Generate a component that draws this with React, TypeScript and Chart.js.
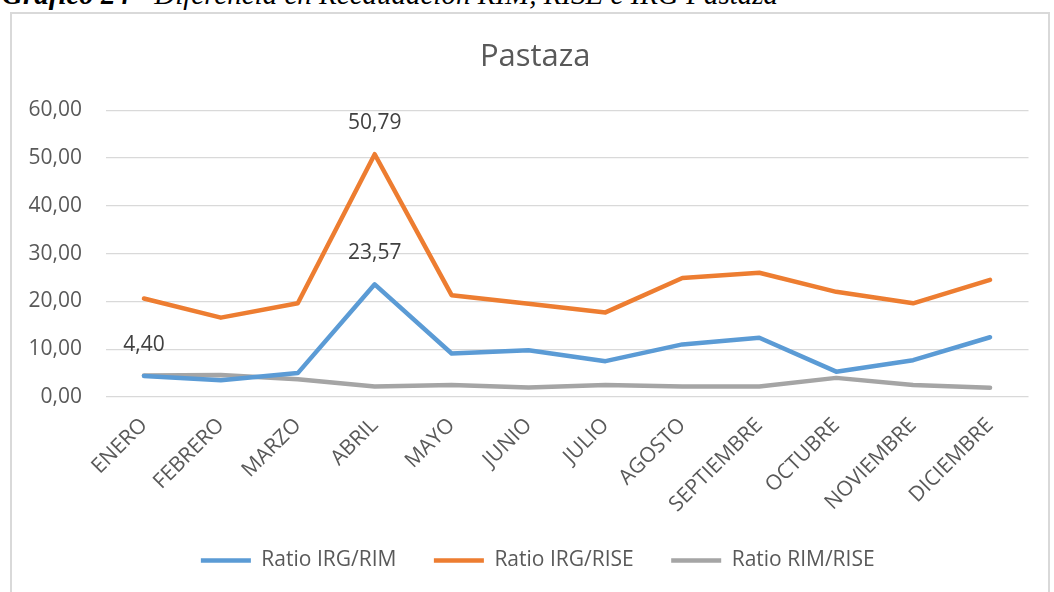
import React, { useEffect, useRef } from "react";
import { Chart, registerables } from "chart.js";

Chart.register(...registerables);

const captionBold = "Gráfico 24";
const captionRest = " - Diferencia en Recaudación RIM, RISE e IRG Pastaza";
const chartTitle = "Pastaza";

const months = [
  "ENERO", "FEBRERO", "MARZO", "ABRIL", "MAYO", "JUNIO",
  "JULIO", "AGOSTO", "SEPTIEMBRE", "OCTUBRE", "NOVIEMBRE", "DICIEMBRE",
];
const seriesNames = ["Ratio IRG/RIM", "Ratio IRG/RISE", "Ratio RIM/RISE"];
const ratioIrgRim = [4.4, 3.5, 5.0, 23.57, 9.1, 9.8, 7.5, 11.0, 12.4, 5.3, 7.7, 12.5];
const ratioIrgRise = [20.6, 16.6, 19.6, 50.79, 21.3, 19.5, 17.7, 24.9, 26.0, 22.0, 19.6, 24.5];
const ratioRimRise = [4.5, 4.6, 3.7, 2.2, 2.5, 2.0, 2.5, 2.2, 2.2, 4.0, 2.5, 1.95];
const seriesColors = ["#5B9BD5", "#ED7D31", "#A5A5A5"];
const yMin = 0;
const yMax = 60;
const yStep = 10;
// data labels: [series index, category index]
const labelledPoints = [
  [0, 0],
  [0, 3],
  [1, 3],
];

const FONT = "'Open Sans', 'Noto Sans', sans-serif";
const fmt = (v: number) => v.toFixed(2).replace(".", ",");

const dataLabelPlugin = {
  id: "dataLabels",
  afterDatasetsDraw(chart: any) {
    const ctx = chart.ctx;
    ctx.save();
    ctx.font = `21px ${FONT}`;
    ctx.fillStyle = "#404040";
    ctx.textAlign = "center";
    ctx.textBaseline = "middle";
    labelledPoints.forEach(([s, i]) => {
      const meta = chart.getDatasetMeta(s);
      const pt = meta.data[i];
      const v = chart.data.datasets[s].data[i] as number;
      ctx.fillText(fmt(v), pt.x, pt.y - 31);
    });
    ctx.restore();
  },
};

// Excel places title and legend slightly right of the plot's centre
const boxShiftPlugin = {
  id: "boxShift",
  afterLayout(chart: any) {
    const lg = chart.legend;
    if (lg) {
      lg.left += 23.5;
      lg.right += 23.5;
    }
    const tb = chart.titleBlock;
    if (tb) {
      tb.left += 21;
      tb.right += 21;
    }
  },
};

export default function App() {
  const canvasRef = useRef<HTMLCanvasElement | null>(null);

  useEffect(() => {
    if (!canvasRef.current) return;
    const allSeries = [ratioIrgRim, ratioIrgRise, ratioRimRise];
    const chart = new Chart(canvasRef.current, {
      type: "line",
      data: {
        labels: months,
        datasets: allSeries.map((d, k) => ({
          label: seriesNames[k],
          data: d,
          borderColor: seriesColors[k],
          backgroundColor: seriesColors[k],
          borderWidth: 4.5,
          borderCapStyle: "round" as const,
          borderJoinStyle: "round" as const,
          pointRadius: 0,
          pointHoverRadius: 0,
          tension: 0,
          fill: false,
        })),
      },
      options: {
        responsive: false,
        animation: false,
        events: [],
        layout: { padding: { left: 0, right: 25.5, top: 0, bottom: 11 } },
        plugins: {
          title: {
            display: true,
            text: chartTitle,
            color: "#595959",
            font: { family: FONT, size: 31, weight: "normal" as const },
            padding: { top: 39, bottom: 34 },
          },
          legend: {
            display: true,
            position: "bottom",
            labels: {
              usePointStyle: true,
              pointStyle: "line",
              pointStyleWidth: 50,
              padding: 37.5,
              color: "#595959",
              font: { family: FONT, size: 21 },
            },
          },
          tooltip: { enabled: false },
        },
        scales: {
          x: {
            offset: true,
            grid: { display: false, drawTicks: false },
            border: { display: false },
            ticks: {
              autoSkip: false,
              minRotation: 45,
              maxRotation: 45,
              padding: 16,
              color: "#595959",
              font: { family: FONT, size: 21 },
            },
            afterFit(scale: any) {
              scale.height = 115.5;
            },
          },
          y: {
            min: yMin,
            max: yMax,
            grid: { color: "#d9d9d9", lineWidth: 1.2, drawTicks: false },
            border: { display: false },
            ticks: {
              stepSize: yStep,
              padding: 23.5,
              color: "#595959",
              font: { family: FONT, size: 21 },
              callback: (v: any) => fmt(Number(v)),
            },
            afterFit(scale: any) {
              scale.width = 105.5;
            },
          },
        },
      },
      plugins: [dataLabelPlugin, boxShiftPlugin],
    });
    return () => chart.destroy();
  }, []);

  return (
    <div
      style={{
        position: "fixed",
        left: 0,
        top: 0,
        width: 1054,
        height: 592,
        overflow: "hidden",
        background: "#fff",
      }}
    >
      <div
        style={{
          position: "absolute",
          left: 2,
          top: -20,
          fontFamily: "'Liberation Serif', 'Times New Roman', serif",
          fontStyle: "italic",
          fontSize: 29,
          lineHeight: "29px",
          whiteSpace: "nowrap",
          color: "#000",
        }}
      >
        <b>{captionBold}</b>
        {captionRest}
      </div>
      <div
        style={{
          position: "absolute",
          left: 10,
          top: 12,
          width: 1036,
          height: 600,
          border: "2px solid #d9d9d9",
          boxSizing: "content-box",
        }}
      />
      <canvas
        ref={canvasRef}
        width={1054}
        height={592}
        style={{ position: "absolute", left: 0, top: 0, width: 1054, height: 592 }}
      />
    </div>
  );
}
